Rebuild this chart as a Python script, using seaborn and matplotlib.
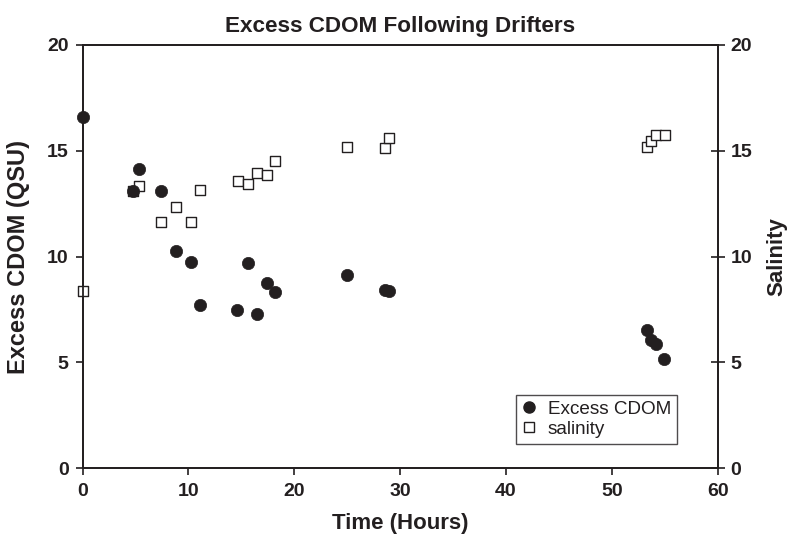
import matplotlib
matplotlib.use("Agg")
import matplotlib.pyplot as plt
import seaborn as sns
import pandas as pd
from matplotlib.lines import Line2D

sns.set_style("white")
plt.rcParams['font.family'] = ['Liberation Sans', 'DejaVu Sans']

# Data
cdom_time = [0, 4.78, 5.3, 7.37, 8.78, 10.24, 11.1, 14.6, 15.62, 16.45, 17.4, 18.15,
             25.0, 28.6, 28.9, 53.3, 53.7, 54.2, 54.9]
cdom_value = [16.6, 13.08, 14.14, 13.11, 10.27, 9.72, 7.73, 7.45, 9.69, 7.29, 8.77, 8.34,
              9.12, 8.42, 8.38, 6.52, 6.06, 5.88, 5.14]
sal_time = [0, 4.78, 5.33, 7.37, 8.81, 10.24, 11.1, 14.65, 15.62, 16.5, 17.4, 18.2,
            25.0, 28.6, 28.9, 53.3, 53.7, 54.2, 55.0]
sal_value = [8.39, 13.08, 13.35, 11.63, 12.32, 11.63, 13.16, 13.55, 13.43, 13.95, 13.87, 14.5,
             15.2, 15.14, 15.6, 15.18, 15.47, 15.73, 15.73]
x_ticks = [0, 10, 20, 30, 40, 50, 60]
y_ticks = [0, 5, 10, 15, 20]

cdom_df = pd.DataFrame({"time": cdom_time, "value": cdom_value})
sal_df = pd.DataFrame({"time": sal_time, "value": sal_value})

ink = "#231f20"

fig = plt.figure(figsize=(7.94, 5.40), dpi=100)
ax = fig.add_axes([0.104, 0.1333, 0.8, 0.7834])
ax2 = ax.twinx()

sns.scatterplot(data=sal_df, x="time", y="value", ax=ax2, marker="s", s=62,
                facecolor="white", edgecolor=ink, linewidth=1.0, zorder=3, clip_on=False)
sns.scatterplot(data=cdom_df, x="time", y="value", ax=ax, marker="o", s=78,
                color=ink, edgecolor=ink, linewidth=0.5, zorder=4, clip_on=False)

ax.set_zorder(ax2.get_zorder() + 1)
ax.patch.set_visible(False)

for a in (ax, ax2):
    a.set_xlim(0, 60)
    a.set_ylim(0, 20)
    a.set_yticks(y_ticks)
    for sp in a.spines.values():
        sp.set_color(ink)
        sp.set_linewidth(1.3)
ax.set_xticks(x_ticks)

ax.tick_params(axis='x', direction='out', length=5, width=1.2, color=ink,
               labelsize=14, labelcolor=ink, pad=6, bottom=True)
ax.tick_params(axis='y', direction='out', length=5, width=1.2, color=ink,
               labelsize=14, labelcolor=ink, pad=5, left=True)
ax2.tick_params(axis='y', direction='inout', length=10, width=1.2, color=ink,
                labelsize=14, labelcolor=ink, pad=4, right=True)
for lab in ax.get_xticklabels() + ax.get_yticklabels() + ax2.get_yticklabels():
    lab.set_fontweight('bold')

ax.set_xlabel("Time (Hours)", fontsize=16, fontweight='bold', color=ink, labelpad=9)
ax.set_ylabel("Excess CDOM (QSU)", fontsize=17, fontweight='bold', color=ink, labelpad=12)
ax2.set_ylabel("Salinity", fontsize=16, fontweight='bold', color=ink, labelpad=10)
ax.set_title("Excess CDOM Following Drifters", fontsize=16.2, fontweight='bold',
             color=ink, pad=9)

handles = [
    Line2D([], [], linestyle='none', marker='o', markersize=8, color=ink,
           markeredgecolor=ink, label='Excess CDOM'),
    Line2D([], [], linestyle='none', marker='s', markersize=6.5, markerfacecolor='white',
           markeredgecolor=ink, markeredgewidth=1.0, label='salinity'),
]
leg = ax.legend(handles=handles, loc='upper left', bbox_to_anchor=(0.682, 0.1726),
                borderaxespad=0, frameon=True, fancybox=False, fontsize=13.6,
                handlelength=0.8, handletextpad=0.6, borderpad=0.3, labelspacing=0.15)
leg.get_frame().set_edgecolor(ink)
leg.get_frame().set_linewidth(1.0)
for t in leg.get_texts():
    t.set_color(ink)

fig.savefig("out.png", dpi=100)
